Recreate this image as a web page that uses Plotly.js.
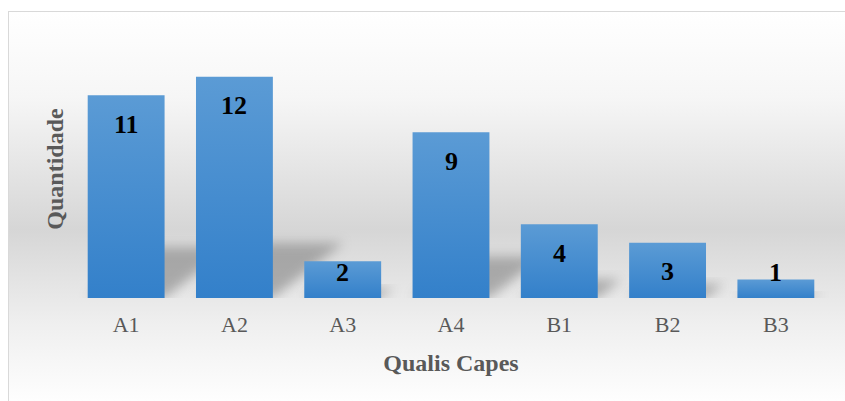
<!DOCTYPE html>
<html><head><meta charset="utf-8">
<script src="https://cdn.plot.ly/plotly-3.0.1.min.js"></script>
<style>
html,body{margin:0;padding:0;width:845px;height:401px;overflow:hidden;background:#fff}
#bg{position:absolute;left:8px;top:11px;width:837px;height:390px;border-top:1.5px solid #d9d9d9;border-left:1.5px solid #d9d9d9;box-sizing:border-box;
background:linear-gradient(to bottom,#ffffff 0%,#f6f6f6 22%,#d6d6d6 56%,#efefef 80%,#fefefe 100%)}
#chart{position:absolute;left:0;top:0;width:845px;height:401px}
</style></head><body>
<div id="bg"></div><div id="chart"></div>
<script>
const categories = ['A1','A2','A3','A4','B1','B2','B3'];
const values = [11,12,2,9,4,3,1];
const xTitle = 'Qualis Capes';
const yTitle = 'Quantidade';

const FONT = 'Liberation Serif, Times New Roman, serif';

const annotations = categories.map((c,i)=>({
  x: c, y: Math.max(values[i] - 1.57, 1.41), xref:'x', yref:'y',
  text: String(values[i]), showarrow:false, yanchor:'middle',
  font:{family:FONT, size:26, color:'#000', weight:'bold'}
}));

const trace = {
  type:'bar', x: categories, y: values,
  marker:{color:'#4a8fd2', line:{width:0}},
  hoverinfo:'none'
};

const layout = {
  width:845, height:401,
  margin:{l:72, r:15, t:40, b:103},
  paper_bgcolor:'rgba(0,0,0,0)', plot_bgcolor:'rgba(0,0,0,0)',
  bargap:0.29,
  showlegend:false,
  xaxis:{
    type:'category', showgrid:false, zeroline:false, showline:false, ticks:'',
    ticklabelstandoff:11,
    tickfont:{family:FONT, size:22, color:'#595959'},
    title:{text:xTitle, standoff:18, font:{family:FONT, size:24, color:'#595959', weight:'bold'}}
  },
  yaxis:{
    range:[0,14], showgrid:false, zeroline:false, showline:false, showticklabels:false, ticks:'',
    title:{text:yTitle, standoff:0, font:{family:FONT, size:24, color:'#595959', weight:'bold'}}
  },
  annotations: annotations
};

Plotly.newPlot('chart',[trace],layout,{displayModeBar:false, staticPlot:true}).then(gd=>{
  const NS='http://www.w3.org/2000/svg';
  const svg = gd.querySelector('svg.main-svg');
  let defs = svg.querySelector('defs');
  if(!defs){defs=document.createElementNS(NS,'defs'); svg.insertBefore(defs, svg.firstChild);}
  defs.insertAdjacentHTML('beforeend',
    '<linearGradient id="barGrad" x1="0" y1="0" x2="0" y2="1">'+
    '<stop offset="0" stop-color="#5b9bd5"/><stop offset="1" stop-color="#3380ca"/></linearGradient>'+
    '<filter id="shBlur" x="-50%" y="-50%" width="200%" height="200%"><feGaussianBlur stdDeviation="6"/></filter>');
  const paths = gd.querySelectorAll('.barlayer .point path');
  paths.forEach(p=>{
    const b = p.getBBox();
    const h = b.height, x0=b.x, x1=b.x+b.width, y1=b.y+b.height;
    const dy = 0.25*h, dx = 0.32*h;
    const sh = document.createElementNS(NS,'path');
    sh.setAttribute('d', `M${x0},${y1}L${x1},${y1}L${x1+dx},${y1-dy}L${x0+dx},${y1-dy}Z`);
    sh.setAttribute('fill','#6f6f6f');
    sh.setAttribute('opacity','0.5');
    sh.setAttribute('filter','url(#shBlur)');
    const grp = p.parentNode.parentNode;
    grp.insertBefore(sh, grp.firstChild);
    p.style.fill='url(#barGrad)';
  });
});
</script>
</body></html>
